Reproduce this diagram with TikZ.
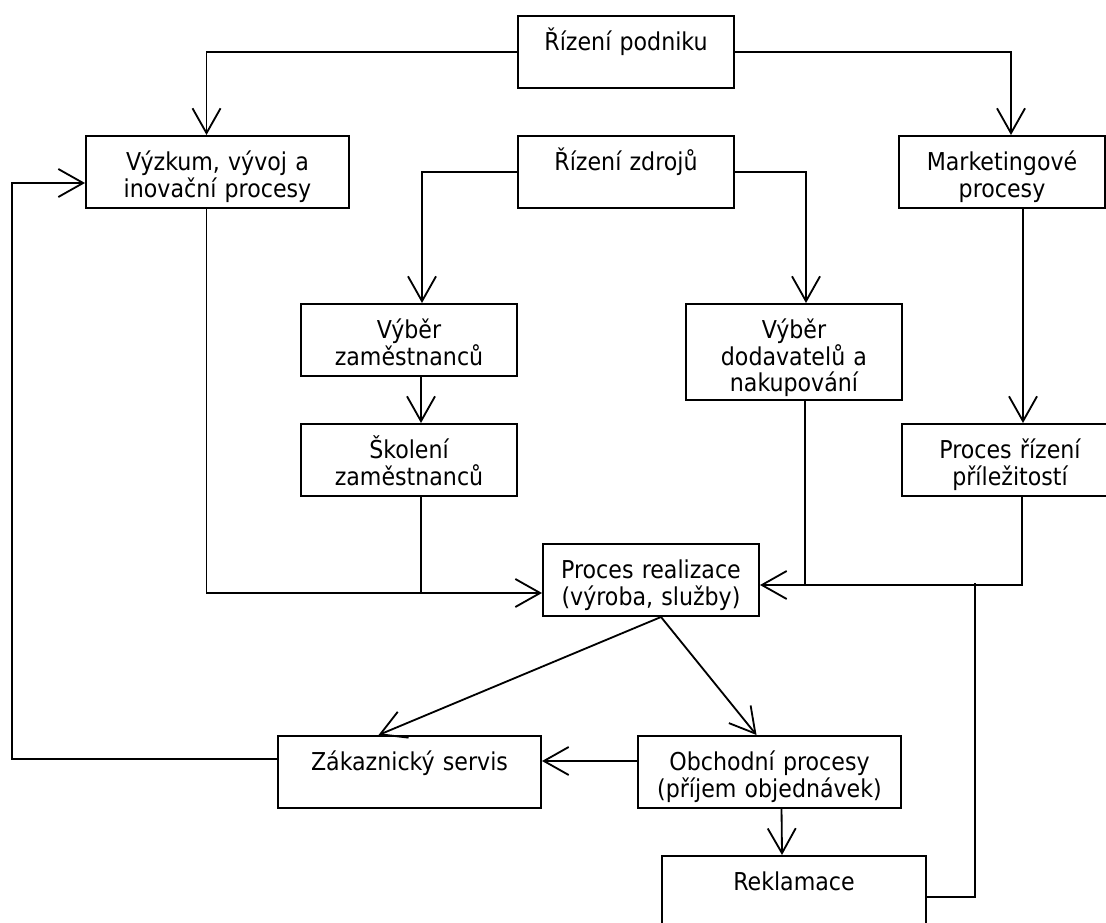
\documentclass[tikz,border=0pt]{standalone}
\usepackage{fontspec}
\setmainfont{DejaVu Sans Condensed}
\usetikzlibrary{calc}
\usetikzlibrary{arrows.meta}
\tikzset{
	proc/.style={draw, line width=1.4pt, inner sep=0pt, anchor=north west,
			text width=#1, align=center, font=\fontsize{17.5pt}{19pt}\selectfont,
			text height=0.86cm, text depth=0.94cm},
	proc/.default=5.4cm,
	tall/.style={text depth=1.54cm},
	flow/.style={line width=1.3pt, -{Straight Barb[length=6.2mm,width=7mm]}},
	link/.style={line width=1.3pt}
}

\begin{document}
\begin{tikzpicture}[x=0.025cm,y=-0.025cm]
		\useasboundingbox (0,0) rectangle (1106,922);
		\node[proc] (pod) at (517,15) {Řízení podniku};
		\node[proc=6.575cm] (vyz) at (85,135) {Výzkum, vývoj a\\inovační procesy};
		\node[proc] (zdr) at (517,135) {Řízení zdrojů};
		\node[proc=5.15cm] (mkt) at (898,135) {Marketingové\\procesy};
		\node[proc] (vzam) at (300,303) {Výběr\\zaměstnanců};
		\node[proc] (skol) at (300,423) {Školení\\zaměstnanců};
		\node[proc,tall] (vdod) at (685,303) {Výběr\\dodavatelů a\\nakupování};
		\node[proc] (prz) at (901,423) {Proces řízení\\příležitostí};
		\node[proc] (real) at (542,543) {Proces realizace\\(výroba, služby)};
		\node[proc=6.575cm] (zak) at (277,735) {Zákaznický servis};
		\node[proc=6.575cm] (obch) at (637,735) {Obchodní procesy\\(příjem objednávek)};
		\node[proc=6.6cm] (rek) at (661,855) {Reklamace};
		\coordinate (jleft) at ($(real.west)+(0,13)$);
		\coordinate (jright) at ($(real.east)+(0,5)$);
		\draw[flow] (pod.west) -| ($(vyz.north)+(-11,0)$);
		\draw[flow] (pod.east) -| ($(mkt.north)+(9,0)$);
		\draw[flow] (zdr.west) -| ($(vzam.north)+(13,0)$);
		\draw[flow] (zdr.east) -| ($(vdod.north)+(12,0)$);
		\draw[flow] ($(vzam.south)+(12,0)$) -- ($(skol.north)+(12,0)$);
		\draw[flow] ($(mkt.south)+(21,0)$) -- ($(prz.north)+(13,0)$);
		\draw[flow] ($(vyz.south)+(-11,0)$) |- (jleft);
		\draw[link] ($(skol.south)+(12,0)$) coordinate (sk) -- (sk |- jleft);
		\draw[link] ($(vdod.south)+(11,0)$) coordinate (vd) -- (vd |- jright);
		\draw[flow] ($(prz.south)+(12,0)$) |- (jright);
		\draw[link] ($(rek.east)+(0,5)$) -| ($(jright)+(215,-2)$);
		\draw[flow] ($(real.south)+(10,0)$) -- ($(zak.north)+(-31,0)$);
		\draw[flow] ($(real.south)+(10,0)$) -- ($(obch.north)+(-13,0)$);
		\draw[flow] ($(obch.west)+(0,-11)$) -- ($(zak.east)+(0,-11)$);
		\draw[flow] ($(obch.south)+(12,0)$) -- ($(rek.north)+(-12,0)$);
		\draw[flow] ($(zak.west)+(0,-13)$) -| ($(vyz.west)+(-73,11)$) -- ($(vyz.west)+(0,11)$);
	\end{tikzpicture}
\end{document}
